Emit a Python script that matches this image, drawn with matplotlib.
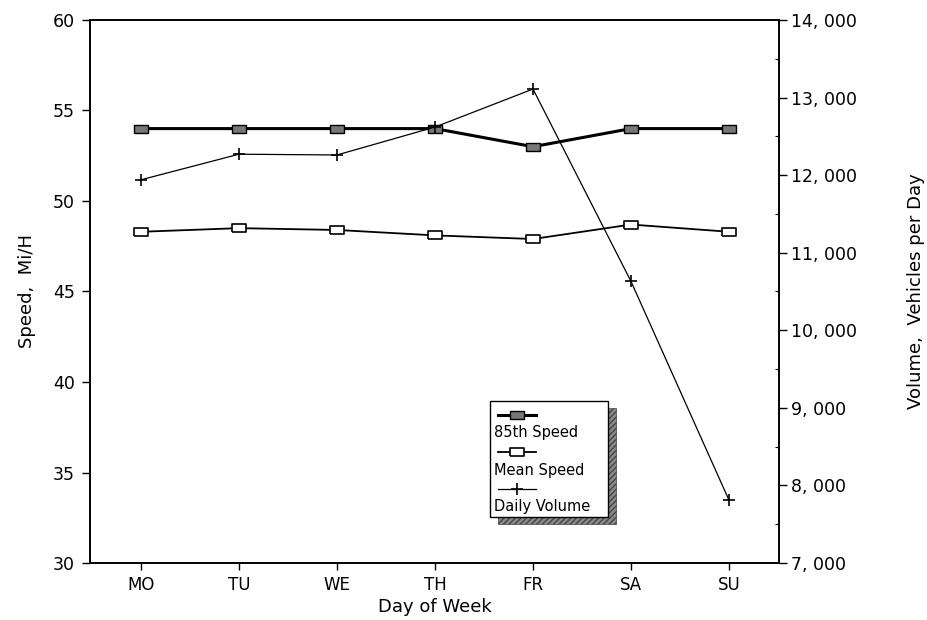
import matplotlib
matplotlib.use("Agg")
import matplotlib.pyplot as plt
from matplotlib.patches import Rectangle
from matplotlib.lines import Line2D
from matplotlib.ticker import FuncFormatter, MultipleLocator

# ===============================
# Data
# ===============================
days = ["MO", "TU", "WE", "TH", "FR", "SA", "SU"]
speed_85th = [54, 54, 54, 54, 53, 54, 54]
speed_mean = [48.3, 48.5, 48.4, 48.1, 47.9, 48.7, 48.3]
daily_volume = [11940, 12270, 12260, 12620, 13110, 10630, 7810]

plt.rcParams["font.family"] = "DejaVu Sans"

fig = plt.figure(figsize=(9.27, 6.2), dpi=100)
ax = fig.add_axes([90 / 927, 1 - 563 / 620, (779 - 90) / 927, (563 - 20) / 620])
ax2 = ax.twinx()

x = list(range(len(days)))

# rectangle marker, wider than tall
rect_marker = [(-1, -0.55), (1, -0.55), (1, 0.55), (-1, 0.55), (-1, -0.55)]

ax.plot(x, speed_85th, color="black", lw=2.2, marker=rect_marker, ms=10,
        mfc="#777777", mec="black", mew=1.0, zorder=3)
ax.plot(x, speed_mean, color="black", lw=1.3, marker=rect_marker, ms=10,
        mfc="white", mec="black", mew=1.2, zorder=3)
ax2.plot(x, daily_volume, color="black", lw=0.9, marker="+", ms=9,
         mew=1.2, zorder=3)

ax.set_xlim(-0.52, 6.51)
ax.set_ylim(30, 60)
ax2.set_ylim(7000, 14000)

ax.set_xticks(x)
ax.set_xticklabels(days)
ax.set_yticks(range(30, 61, 5))
ax2.set_yticks(range(7000, 14001, 1000))
ax2.yaxis.set_major_formatter(FuncFormatter(lambda v, p: f"{int(v):,}".replace(",", ", ")))
ax2.yaxis.set_minor_locator(MultipleLocator(500))

ax.tick_params(axis="x", direction="out", length=5, width=1, labelsize=12, pad=4)
ax.tick_params(axis="y", direction="out", length=6, width=1, labelsize=12.5, pad=5)
ax2.tick_params(axis="y", which="major", direction="out", length=6, width=1, labelsize=12.5, pad=3)
ax2.tick_params(axis="y", which="minor", direction="in", length=3, width=0.8)

for a in (ax, ax2):
    for s in a.spines.values():
        s.set_linewidth(1.2)

ax.set_xlabel("Day of Week", fontsize=13, labelpad=3)
ax.set_ylabel("Speed,  Mi/H", fontsize=13, labelpad=12)
ax2.set_ylabel("Volume,  Vehicles per Day", fontsize=13, labelpad=36)

# ===============================
# Legend box with shadow (samples above labels)
# ===============================
bx, by, bw, bh = 490, 401, 118, 116  # pixel box in figure
def fx(px):
    return px / 927
def fy(py):
    return 1 - py / 620

shadow = Rectangle((fx(bx + 8), fy(by + bh + 7)), bw / 927, bh / 620, transform=fig.transFigure,
                   facecolor="#8a8a8a", edgecolor="#444444", hatch="//////", lw=0.5, zorder=5)
box = Rectangle((fx(bx), fy(by + bh)), bw / 927, bh / 620, transform=fig.transFigure,
                facecolor="white", edgecolor="black", lw=1.0, zorder=6)
fig.patches.extend([shadow, box])

legend_items = [
    ("85th Speed", dict(lw=2.2, marker=rect_marker, ms=10, mfc="#777777", mec="black", mew=1.0)),
    ("Mean Speed", dict(lw=1.3, marker=rect_marker, ms=10, mfc="white", mec="black", mew=1.2)),
    ("Daily Volume", dict(lw=0.9, marker="+", ms=9, mew=1.2)),
]
for i, (label, style) in enumerate(legend_items):
    y_line = by + 14 + i * 37
    marker_style = {k: v for k, v in style.items() if k != "lw"}
    line_style = {"lw": style["lw"]}
    fig.add_artist(Line2D([fx(bx + 8), fx(bx + 46)], [fy(y_line), fy(y_line)],
                          transform=fig.transFigure, color="black", zorder=7, **line_style))
    fig.add_artist(Line2D([fx(bx + 27)], [fy(y_line)], transform=fig.transFigure,
                          color="black", linestyle="none", zorder=8, **marker_style))
    fig.text(fx(bx + 4), fy(y_line + 18), label, fontsize=10.5, ha="left", va="center", zorder=8)

fig.savefig("out.png", dpi=100)
